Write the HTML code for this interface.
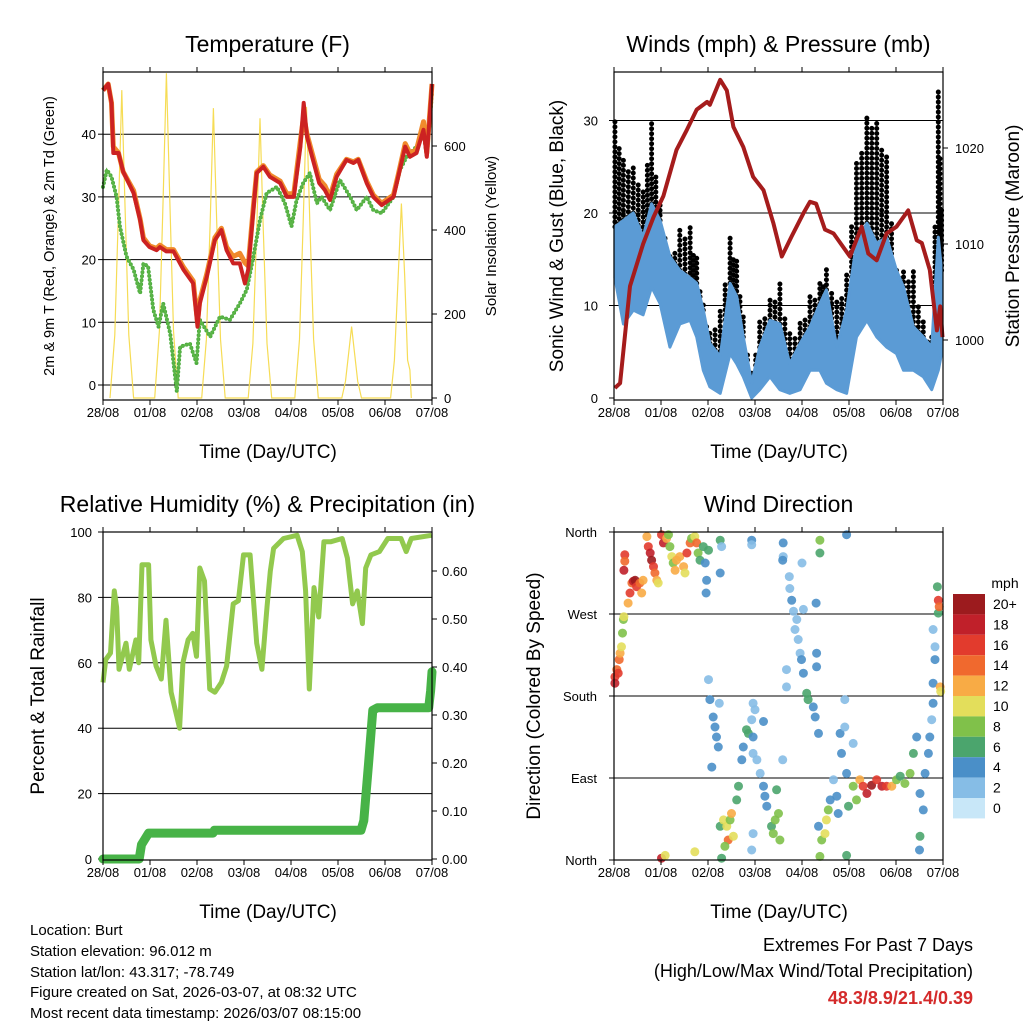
<!DOCTYPE html>
<html><head><meta charset="utf-8"><style>
html,body{margin:0;padding:0;background:#fff;}
svg{display:block;font-family:"Liberation Sans",sans-serif;}
</style></head><body>
<svg id="fig" width="1024" height="1024" viewBox="0 0 1024 1024" xmlns="http://www.w3.org/2000/svg">
<g id="layer"></g>
<g font-size="15" fill="#000">
<text x="30" y="935">Location: Burt</text>
<text x="30" y="956">Station elevation: 96.012 m</text>
<text x="30" y="977">Station lat/lon: 43.317; -78.749</text>
<text x="30" y="997">Figure created on Sat, 2026-03-07, at 08:32 UTC</text>
<text x="30" y="1018">Most recent data timestamp: 2026/03/07 08:15:00</text>
</g>
<g text-anchor="end">
<text x="973" y="951" font-size="18">Extremes For Past 7 Days</text>
<text x="973" y="977" font-size="18">(High/Low/Max Wind/Total Precipitation)</text>
<text x="973" y="1004" font-size="18" font-weight="bold" fill="#d42a2a">48.3/8.9/21.4/0.39</text>
</g>
</svg>
<script>
// ---------- Temperature data ----------
var tDays=[0,0.11,0.18,0.22,0.33,0.43,0.65,0.79,0.86,0.99,1.14,1.21,1.35,1.5,1.71,1.92,2.01,2.06,2.21,2.38,2.52,2.63,2.77,2.91,3.02,3.09,3.2,3.27,3.41,3.55,3.77,3.91,4.06,4.2,4.27,4.34,4.45,4.6,4.72,4.83,4.97,5.18,5.33,5.43,5.61,5.75,5.93,6.18,6.28,6.43,6.53,6.67,6.82,6.89,7.0];
var tRed=[47,48,45,37,37,34,30.6,26.3,23.1,22,21.5,22,21.3,21.3,18.4,16.2,9.3,13,17.3,23.1,24.7,21.5,19.4,19.4,16.2,18.4,27.9,33.8,34.8,33.2,32.2,30,30,38,45,39.6,36.4,32.2,31.1,29.5,33.2,35.9,35.4,35.9,32.2,30,28.7,30,33.2,38,36.4,37,40.7,36.4,48];
var tOrange=[47,48,45,38,37,34,31,26.5,23.5,22.2,21.8,22.3,21.6,21.6,18.8,16.6,10,13.5,17.8,23.5,25,22,20.5,21,19.5,19,28.5,34,35,33.5,32.5,30.5,30.5,39,43,40,37,32.8,31.8,30,33.6,36,35.6,36,32.5,30.3,29,30.3,33.5,38.5,37,37.5,42,37,48];
var dwDays=[0,0.08,0.18,0.29,0.36,0.5,0.65,0.79,0.86,0.96,1.07,1.18,1.28,1.43,1.57,1.64,1.85,1.99,2.06,2.28,2.49,2.7,2.91,3.06,3.2,3.34,3.48,3.7,3.87,4.01,4.12,4.26,4.4,4.55,4.65,4.83,5.04,5.26,5.4,5.61,5.75,5.93,6.18,6.32,6.46,6.67,6.82,6.89,7.0];
var tDew=[31.6,34.3,33.2,30,25.3,20.5,18.4,14.6,19.4,18.9,12,9.3,13,8.2,-1,6.1,6.6,3.5,10.4,7.7,10.9,10.4,13,15.2,20.5,26.3,30.6,31.6,29,25.3,29.5,32.2,33.8,29,30,27.9,32.7,30,27.9,30,27.9,27.4,30,34.3,36.4,38,40.2,36.4,46.5];
var solDays=[0.15,0.25,0.33,0.4,0.47,0.55,0.65, 1.1,1.2,1.28,1.35,1.42,1.5,1.6, 2.1,2.2,2.28,2.35,2.42,2.5,2.6, 3.09,3.19,3.27,3.34,3.41,3.49,3.59, 4.08,4.18,4.26,4.33,4.4,4.48,4.58, 5.08,5.16,5.23,5.29,5.35,5.42,5.5, 6.12,6.2,6.28,6.35,6.42,6.48,6.53,6.56];
var solVals=[0,150,450,733,450,150,0, 0,160,480,773,480,160,0, 0,140,420,690,420,140,0, 0,130,400,666,400,130,0, 0,140,420,693,420,140,0, 0,40,110,170,110,40,0, 0,90,290,463,290,90,67,0];
var tTicks=[0,10,20,30,40];
var solTicks=[0,200,400,600];
var dayLabels=["28/08","01/08","02/08","03/08","04/08","05/08","06/08","07/08"];
// ---------- Wind data ----------
var wDays=[0.02,0.2,0.41,0.62,0.8,0.98,1.19,1.4,1.62,1.76,1.9,2.04,2.26,2.47,2.61,2.75,2.93,3.1,3.32,3.53,3.74,3.96,4.17,4.38,4.52,4.74,4.95,5.16,5.38,5.59,5.8,6.01,6.16,6.37,6.58,6.76,6.9,6.97];
var wLow=[13,8,9.5,9,12,10.2,5.5,8,8.4,6.6,3,1.2,0.5,4.8,3.7,2.3,0,0.9,2.3,0.9,0.5,0.9,3,3,1.6,0.9,0.5,6.6,8.4,6.6,5.5,4.8,3,3,2.3,0.9,3,4.8];
var wHigh=[18.5,19.2,20,17.4,21,19.2,15.3,13.8,13,12.4,9.5,5.9,4.5,12.4,11,6.6,1.6,5.5,8.4,8,3.7,5.9,7.7,10.2,11.7,5.5,9.5,16.7,18.9,16.7,17.4,13.8,12,7.7,6.6,5.5,17.4,13.8];
var wGust=[30,26,25.4,22.8,29.7,21,14.9,18.5,18.5,15.3,10.2,7.4,9.5,17.4,15.3,8.8,3,8.4,11,12.4,7.4,8.4,11,12.8,14.2,10.6,13.8,25.4,30.4,30,26.5,14.2,13.8,13.8,8.4,6.6,33.3,20.7];
var pDays=[0.02,0.13,0.23,0.34,0.62,0.84,1.05,1.33,1.55,1.76,1.98,2.04,2.26,2.4,2.54,2.75,2.96,3.18,3.39,3.57,3.78,4.03,4.17,4.3,4.49,4.67,5.02,5.27,5.41,5.59,5.8,6.01,6.26,6.44,6.55,6.72,6.87,6.94,6.99];
var pVals=[995,995.5,1000.3,1005.6,1010,1012.8,1015,1019.8,1021.9,1024,1024.8,1024.5,1027.1,1026,1022.2,1020.1,1017,1015.6,1012.2,1008.7,1010.8,1013.2,1014.4,1014.2,1011.5,1011.1,1008.7,1011.8,1009,1008.3,1011.1,1011.8,1013.5,1010.4,1010.1,1007.3,1001,1003.5,1000.3];
var wTicks=[0,10,20,30];
var pTicks=[1000,1010,1020];
// ---------- RH / precip data ----------
var rhDays=[0,0.06,0.16,0.24,0.29,0.34,0.49,0.56,0.70,0.76,0.83,0.97,1.02,1.13,1.24,1.34,1.45,1.63,1.70,1.81,1.91,1.99,2.06,2.16,2.27,2.38,2.52,2.63,2.77,2.88,2.99,3.13,3.27,3.38,3.49,3.56,3.63,3.84,4.13,4.24,4.31,4.39,4.49,4.59,4.70,4.84,5.09,5.2,5.31,5.41,5.52,5.59,5.7,5.88,6.06,6.34,6.45,6.56,6.99];
var rhVals=[54,61,63,82,77,58,66,58,67,60,90,90,67,59,55,73,51,40,60,67,69,62,89,85,52,51,54,59,78,79,93,93,66,58,77,88,95,98,99,94,82,52,83,74,97,97,98,92,78,82,72,89,93,94,98,98,94,98,99];
var prDays=[0,0.77,0.82,0.97,2.34,2.37,5.49,5.55,5.65,5.74,5.84,6.93,6.97,7.0];
var prVals=[0,0,0.03,0.054,0.054,0.06,0.06,0.08,0.2,0.31,0.315,0.315,0.35,0.39];
var rhTicks=[0,20,40,60,80,100];
var prTicks=[0,0.1,0.2,0.3,0.4,0.5,0.6];
// ---------- Wind direction data ----------
var dDays=[.02,.06,.02,.09,.11,.13,.16,.18,.2,.21,.3,.34,.38,.41,.45,.48,.55,.59,.23,.23,.21,.62,.7,.73,.77,.8,.84,.87,.91,.94,1.01,1.05,1.12,1.16,1.19,1.23,1.26,1.3,1.33,1.4,1.48,1.51,1.55,1.62,1.65,1.72,1.76,1.79,1.83,1.9,1.94,1.97,1.96,2.01,2.26,2.29,2.26,2.93,2.93,3.6,3.6,3.59,3.73,3.74,3.78,3.82,3.89,3.85,3.92,3.96,3.99,4.03,4.1,4.13,4.24,4.28,4.35,3.67,3.67,4.0,4.03,4.3,4.31,4.31,4.38,4.38,4.95,2.01,2.04,2.11,2.15,2.18,2.22,2.08,2.24,2.26,2.33,2.4,2.47,2.5,2.43,2.36,2.29,2.54,2.61,2.65,2.72,2.75,2.82,2.86,2.93,2.96,2.96,3.04,3.11,3.18,3.21,3.25,2.96,2.93,3.35,3.39,3.43,3.5,3.53,3.46,3.59,3.18,2.96,3.0,4.35,4.42,4.49,4.52,4.56,4.6,4.67,4.74,4.77,4.81,4.84,4.91,4.91,4.95,4.99,4.95,5.09,5.09,5.16,5.23,5.3,5.38,5.48,5.59,5.7,5.8,5.91,6.01,6.09,6.19,6.3,6.37,6.44,6.51,6.58,6.62,6.69,6.72,6.51,6.5,6.79,6.76,6.79,6.83,6.83,6.79,6.9,6.88,6.9,6.92,6.94,6.95,4.38,1.01,1.09,1.72];
var dDirs=[201,209,194,205,220,227,234,249,264,267,282,293,304,306,307,300,304,293,335,328,318,307,355,344,337,329,322,315,307,304,357,348,353,357,344,333,326,318,329,333,322,315,337,348,353,355,348,337,329,344,326,307,293,340,351,344,315,351,346,348,333,329,311,298,285,273,264,253,242,227,220,205,183,176,168,157,139,209,190,326,275,282,227,212,351,337,357,198,176,157,146,135,124,102,172,37,44,37,44,51,22,15,2,26,66,81,110,124,143,139,154,135,117,110,95,81,70,59,29,11,37,29,44,51,22,77,110,152,172,165,37,22,29,44,55,66,88,70,51,139,117,176,146,95,59,5,128,81,66,88,81,73,82,88,81,81,81,88,92,84,95,117,135,73,55,95,117,135,26,11,172,154,194,220,234,253,271,300,285,278,190,185,4,2,5,9];
var dSpeeds=[16,14,18,16,14,12,10,8,8,10,12,16,14,18,20,16,14,12,16,14,18,12,12,16,18,20,16,14,12,10,16,18,12,8,8,10,8,12,12,12,12,10,16,14,8,10,14,8,6,6,4,4,4,6,6,2,4,4,2,4,2,4,2,2,4,2,2,2,2,2,4,4,6,6,4,4,4,2,2,2,2,4,4,4,8,6,4,2,4,4,4,4,4,4,2,6,10,10,8,12,14,8,6,10,6,6,4,4,6,6,2,4,2,2,2,4,4,4,2,2,6,8,8,8,8,6,2,4,2,2,4,8,10,10,8,4,2,4,4,4,4,2,2,4,6,6,2,8,8,12,16,18,20,16,18,16,12,8,6,8,8,6,4,4,4,4,4,4,6,4,4,2,4,4,2,2,6,6,16,14,12,10,8,18,10,10];
var dirTicks=[0,90,180,270,360];
var dirLabels=["North","East","South","West","North"];
var cbLabels=["20+","18","16","14","12","10","8","6","4","2","0"];
var cbColors=["#9c1b1e","#c0202a","#e23b2d","#f0692e","#f8ab45","#e3de5b","#80c14a","#4ba56d","#4a8fc8","#86bde6","#c8e7f8"];

var NS="http://www.w3.org/2000/svg";
var layer=document.getElementById("layer");
function mk(tag,attrs,parent){var e=document.createElementNS(NS,tag);for(var k in attrs)e.setAttribute(k,attrs[k]);(parent||layer).appendChild(e);return e;}
function txt(s,x,y,size,anchor,parent,rot){var t=mk("text",{x:x,y:y,"font-size":size,"text-anchor":anchor||"middle"},parent);if(rot)t.setAttribute("transform","rotate(-90 "+x+" "+y+")");t.textContent=s;return t;}
function pathFrom(xs,ys,fx,fy){var d="";for(var i=0;i<xs.length;i++)d+=(i?"L":"M")+fx(xs[i]).toFixed(1)+","+fy(ys[i]).toFixed(1);return d;}
function speedColor(s){var i=Math.min(10,Math.floor(s/2));return cbColors[10-i];}

function panel(name,x0,y0,w,h,title){
  var g=mk("g",{});
  
  
  var t=txt(title,x0+w/2,y0-20,23,"middle",g);
  
  
  return g;
}
function frame(g,x0,y0,w,h){
  var r=mk("rect",{x:x0,y:y0,width:w,height:h,fill:"none",stroke:"#000","stroke-width":1.2},g);
  
  
}
function xAxis(g,x0,yb,yt,labY,titleY){
  for(var i=0;i<dayLabels.length;i++){
    var x=x0+47*i;
    mk("line",{x1:x,x2:x,y1:yb,y2:yb+5,stroke:"#000"},g);
    mk("line",{x1:x,x2:x,y1:yt,y2:yt-5,stroke:"#000"},g);
    var t=txt(dayLabels[i],x,labY,13,"middle",g);
    
    
  }
  var tt=txt("Time (Day/UTC)",x0+165,titleY,19,"middle",g);
  
  
}
function hgrid(g,x0,w,y){mk("line",{x1:x0,x2:x0+w,y1:y,y2:y,stroke:"#000","stroke-width":1},g);}

// ===== Panel 1: Temperature =====
(function(){
  var X=function(d){return 103+47*d;}, Y=function(v){return 385-6.27*v;}, YS=function(v){return 398-0.42*v;};
  var g=panel("temperature-panel",103,72,329,328,"Temperature (F)");
  for(var i=0;i<tTicks.length;i++){var y=Y(tTicks[i]);hgrid(g,103,329,y);mk("line",{x1:98,x2:103,y1:y,y2:y,stroke:"#000"},g);
    var l=txt(String(tTicks[i]),96,y+5,13,"end",g);}
  for(var i=0;i<solTicks.length;i++){var y=YS(solTicks[i]);mk("line",{x1:432,x2:437,y1:y,y2:y,stroke:"#000"},g);
    var l=txt(String(solTicks[i]),444,y+5,13,"start",g);}
  var s=mk("path",{d:pathFrom(solDays,solVals,X,YS),fill:"none",stroke:"#f6dc55","stroke-width":1.2},g);
  
  var gr=mk("path",{d:pathFrom(dwDays,tDew,X,Y),fill:"none",stroke:"#4aab3c","stroke-width":4,"stroke-dasharray":"0 4","stroke-linecap":"round","stroke-linejoin":"round"},g);
  
  var gr2=mk("path",{d:pathFrom(dwDays,tDew,X,Y),fill:"none",stroke:"#5cb548","stroke-width":2},g);
  
  var o=mk("path",{d:pathFrom(tDays,tOrange,X,Y),fill:"none",stroke:"#f08a2c","stroke-width":5,"stroke-linejoin":"round"},g);
  
  var r=mk("path",{d:pathFrom(tDays,tRed,X,Y),fill:"none",stroke:"#cc2222","stroke-width":4,"stroke-linejoin":"round"},g);
  
  frame(g,103,72,329,328);
  xAxis(g,103,400,72,417,458);
  var a=txt("2m & 9m T (Red, Orange) & 2m Td (Green)",54,236,14.5,"middle",g,true);
  var b=txt("Solar Insolation (Yellow)",496,236,15,"middle",g,true);
})();

// ===== Panel 2: Winds & Pressure =====
(function(){
  var X=function(d){return 614+47*d;}, Y=function(v){return 398-9.25*v;}, YP=function(p){return 340-9.6*(p-1000);};
  var g=panel("winds-panel",614,72,329,328,"Winds (mph) & Pressure (mb)");
  for(var i=0;i<wTicks.length;i++){var y=Y(wTicks[i]);if(i>0)hgrid(g,614,329,y);mk("line",{x1:609,x2:614,y1:y,y2:y,stroke:"#000"},g);
    var l=txt(String(wTicks[i]),598,y+5,13,"end",g);}
  for(var i=0;i<pTicks.length;i++){var y=YP(pTicks[i]);mk("line",{x1:943,x2:948,y1:y,y2:y,stroke:"#000"},g);
    var l=txt(String(pTicks[i]),955,y+5,13,"start",g);}
  for(var i=0;i<wDays.length;i++){
    var gl=mk("line",{x1:X(wDays[i]),x2:X(wDays[i]),y1:Y(wHigh[i]),y2:Y(wGust[i]),stroke:"#000","stroke-width":5,"stroke-linecap":"round","stroke-dasharray":"0 5"},g);
    
    if(i<wDays.length-1){
      var xm=(X(wDays[i])+X(wDays[i+1]))/2;
      var gm=mk("line",{x1:xm,x2:xm,y1:Y((wHigh[i]+wHigh[i+1])/2),y2:Y((wGust[i]+wGust[i+1])/2-1),stroke:"#000","stroke-width":5,"stroke-linecap":"round","stroke-dasharray":"0 5"},g);
      
    }
  }
  var d="";for(var i=0;i<wDays.length;i++)d+=(i?"L":"M")+X(wDays[i]).toFixed(1)+","+Y(wHigh[i]).toFixed(1);
  for(var i=wDays.length-1;i>=0;i--)d+="L"+X(wDays[i]).toFixed(1)+","+Y(wLow[i]).toFixed(1);
  d+="Z";
  var band=mk("path",{d:d,fill:"#5b9bd5",stroke:"#5b9bd5","stroke-width":3,"stroke-linejoin":"round"},g);
  
  var p=mk("path",{d:pathFrom(pDays,pVals,X,YP),fill:"none",stroke:"#a51c1c","stroke-width":4,"stroke-linejoin":"round"},g);
  
  frame(g,614,72,329,328);
  xAxis(g,614,400,72,417,458);
  var a=txt("Sonic Wind & Gust (Blue, Black)",563,236,19,"middle",g,true);
  var b=txt("Station Pressure (Maroon)",1019,236,19,"middle",g,true);
})();

// ===== Panel 3: RH & Precip =====
(function(){
  var X=function(d){return 103+47*d;}, Y=function(v){return 859-3.27*v;}, YP=function(v){return 859-480*v;};
  var g=panel("humidity-panel",103,532,329,328,"Relative Humidity (%) & Precipitation (in)");
  for(var i=0;i<rhTicks.length;i++){var y=Y(rhTicks[i]);if(i>0&&i<5)hgrid(g,103,329,y);mk("line",{x1:98,x2:103,y1:y,y2:y,stroke:"#000"},g);
    var l=txt(String(rhTicks[i]),92,y+5,13,"end",g);}
  for(var i=0;i<prTicks.length;i++){var y=YP(prTicks[i]);mk("line",{x1:432,x2:437,y1:y,y2:y,stroke:"#000"},g);
    var l=txt(prTicks[i].toFixed(2),442,y+5,13,"start",g);}
  var rh=mk("path",{d:pathFrom(rhDays,rhVals,X,Y),fill:"none",stroke:"#92c94e","stroke-width":5,"stroke-linejoin":"round"},g);
  
  var pr=mk("path",{d:pathFrom(prDays,prVals,X,YP),fill:"none",stroke:"#47b347","stroke-width":9,"stroke-linejoin":"round","stroke-linecap":"round"},g);
  
  frame(g,103,532,329,328);
  xAxis(g,103,860,532,877,918);
  var a=txt("Percent & Total Rainfall",44,696,19,"middle",g,true);
})();

// ===== Panel 4: Wind direction =====
(function(){
  var X=function(d){return 614+47*d;}, Y=function(v){return 860-0.9111*v;};
  var g=panel("wind-direction-panel",614,532,329,328,"Wind Direction");
  for(var i=0;i<dirTicks.length;i++){var y=Y(dirTicks[i]);if(i>0&&i<4)hgrid(g,614,329,y);mk("line",{x1:609,x2:614,y1:y,y2:y,stroke:"#000"},g);
    var l=txt(dirLabels[i],597,y+5,13,"end",g);}
  for(var i=0;i<dDays.length;i++){
    var c=mk("circle",{cx:X(dDays[i]).toFixed(1),cy:Y(dDirs[i]).toFixed(1),r:4.5,fill:speedColor(dSpeeds[i]),"fill-opacity":0.9},g);
    
    
  }
  frame(g,614,532,329,328);
  xAxis(g,614,860,532,877,918);
  var a=txt("Direction (Colored By Speed)",540,696,19,"middle",g,true);
  var cb=mk("g",{},g);
  
  
  var u=txt("mph",1005,588,14,"middle",cb);
  for(var i=0;i<cbColors.length;i++){
    var r=mk("rect",{x:953,y:(594+20.4*i).toFixed(1),width:32,height:20.4,fill:cbColors[i]},cb);
    
    
    var l=txt(cbLabels[i],993,594+20.4*i+15,14,"start",cb);
    
    
  }
})();
</script>
</body></html>
